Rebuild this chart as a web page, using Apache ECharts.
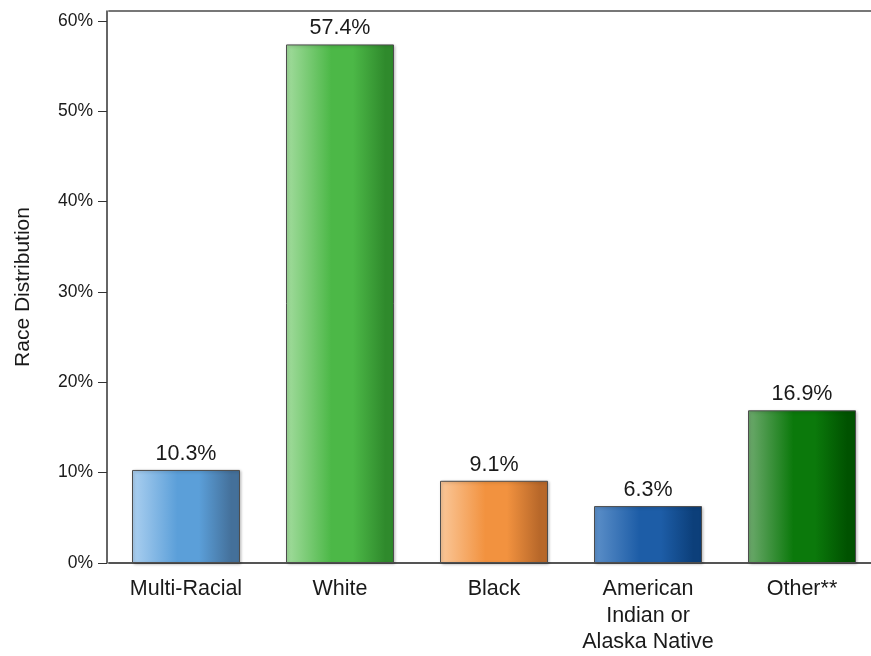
<!DOCTYPE html>
<html>
<head>
<meta charset="utf-8">
<script src="https://cdn.jsdelivr.net/npm/echarts@6/dist/echarts.min.js"></script>
<style>
  html, body { margin: 0; padding: 0; background: #ffffff; overflow: hidden; }
  /* canvas is a little wider than the window so the plot runs off the right edge */
  #chart { width: 880px; height: 656px; }
</style>
</head>
<body>
<div id="chart"></div>
<script>
// Race distribution by category (percent)
const categories = ['Multi-Racial', 'White', 'Black', 'American\nIndian or\nAlaska Native', 'Other**'];
const values = [10.3, 57.4, 9.1, 6.3, 16.9];
const tickValues = [0, 10, 20, 30, 40, 50, 60];

// Shading per bar: [light edge, base, dark edge]
const shades = [
  ['#acd0f0', '#5b9fd9', '#44709a'],
  ['#a3dc9e', '#4cb847', '#2f8a2c'],
  ['#fac89a', '#f2923f', '#b8682a'],
  ['#5d90c9', '#1d5da7', '#0c3f7a'],
  ['#6eaa6e', '#0b790b', '#005200']
];

function barFill(s) {
  return new echarts.graphic.LinearGradient(0, 0, 1, 0, [
    { offset: 0, color: s[0] },
    { offset: 0.42, color: s[1] },
    { offset: 0.62, color: s[1] },
    { offset: 0.92, color: s[2] },
    { offset: 1, color: s[2] }
  ]);
}

const chart = echarts.init(document.getElementById('chart'), null, { renderer: 'canvas' });

const font = 'Liberation Sans, Arial, sans-serif';

chart.setOption({
  animation: false,
  grid: { left: 109, width: 770, top: 11, height: 552, containLabel: false },
  xAxis: [
    {
      type: 'category',
      data: categories,
      axisLine: { lineStyle: { color: '#555555', width: 2 } },
      axisTick: { show: false },
      axisLabel: {
        color: '#1a1a1a',
        fontFamily: font,
        fontSize: 21.5,
        lineHeight: 26.5,
        margin: 13,
        interval: 0
      }
    },
    {
      type: 'category',
      position: 'top',
      data: categories,
      axisLine: { lineStyle: { color: '#777777', width: 2 } },
      axisTick: { show: false },
      axisLabel: { show: false }
    }
  ],
  yAxis: {
    type: 'value',
    min: 0,
    max: 61.1,
    interval: 10,
    offset: 2,
    name: 'Race Distribution',
    nameLocation: 'middle',
    nameGap: 73,
    nameTextStyle: { color: '#1a1a1a', fontFamily: font, fontSize: 21 },
    axisLine: { show: true, lineStyle: { color: '#333333', width: 1.5 } },
    axisTick: {
      show: true,
      length: 9,
      customValues: tickValues,
      lineStyle: { color: '#333333' }
    },
    axisLabel: {
      customValues: tickValues,
      formatter: v => v + '%',
      color: '#1a1a1a',
      fontFamily: font,
      fontSize: 17.5,
      margin: 14
    },
    splitLine: { show: false }
  },
  series: [{
    type: 'bar',
    barWidth: 108,
    data: values.map((v, i) => ({
      value: v,
      itemStyle: { color: barFill(shades[i]) }
    })),
    itemStyle: {
      borderColor: '#4d4d4d',
      borderWidth: 1,
      shadowColor: 'rgba(0,0,0,0.25)',
      shadowBlur: 3,
      shadowOffsetX: 1,
      shadowOffsetY: 1
    },
    label: {
      show: true,
      position: 'top',
      distance: 5,
      formatter: p => p.value.toFixed(1) + '%',
      color: '#1a1a1a',
      fontFamily: font,
      fontSize: 21.5
    }
  }]
});
</script>
</body>
</html>
